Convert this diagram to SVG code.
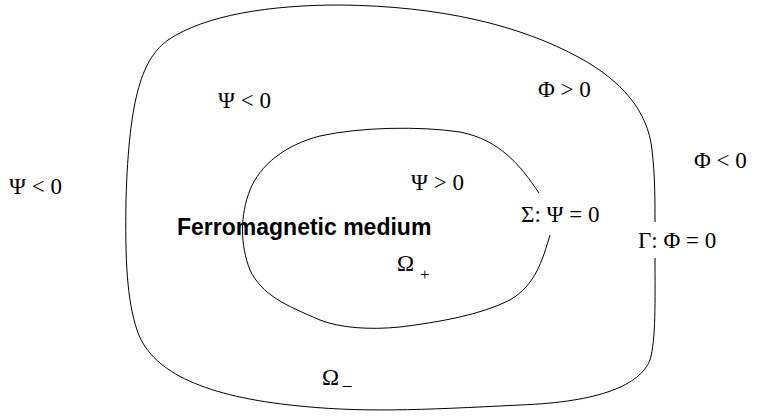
<svg xmlns="http://www.w3.org/2000/svg" width="774" height="418" viewBox="0 0 774 418">
<style>
.c{fill:none;stroke:#000;stroke-width:1}
.m{font-family:"Liberation Serif",serif;font-size:23px;fill:#000}
.s{font-family:"Liberation Serif",serif;font-size:17px;fill:#000}
.b{font-family:"Liberation Sans",Arial,sans-serif;font-size:23px;font-weight:bold;fill:#000}
</style>
<rect width="774" height="418" fill="#fff"/>
<g id="connectors">
<path id="outer" class="c" d="M655,222 C655,200 655,175 652,150 C648,110 620,80 580,58 C520,25 440,6 340,5 C270,5 205,15 168,40 C143,58 129,95 126,200 C125,260 127,300 137,330 C150,370 200,395 290,405 C360,413 420,410 520,405 C600,402 640,385 650,360 C656,340 655,300 655,258"/>
<path id="inner" class="c" d="M539,193 C520,165 500,140 460,132 C420,126 360,127 320,136 C285,145 260,165 250,190 C240,215 240,245 250,270 C262,295 285,305 320,320 C340,328 370,330 400,327 C440,322 480,315 510,300 C535,285 542,262 550,235"/>
</g>
<g id="labels">
<text class="m" x="9" y="194">Ψ &lt; 0</text>
<text class="m" x="218" y="108">Ψ &lt; 0</text>
<text class="m" x="538" y="97">Φ &gt; 0</text>
<text class="m" x="694" y="168">Φ &lt; 0</text>
<text class="m" x="411" y="190">Ψ &gt; 0</text>
<text class="m" x="521" y="222">Σ: Ψ = 0</text>
<text class="m" x="638" y="248">Γ: Φ = 0</text>
<text class="b" x="177" y="235">Ferromagnetic medium</text>
<text class="m" x="397" y="271">Ω</text>
<text class="s" x="420" y="280">+</text>
<text class="m" x="322" y="385">Ω</text>
<text class="s" x="343" y="385">_</text>
</g>
</svg>
